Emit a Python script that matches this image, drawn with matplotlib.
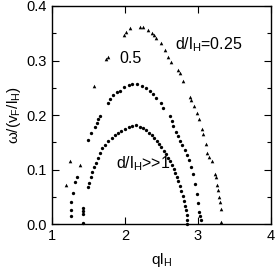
import matplotlib
matplotlib.use("Agg")
import matplotlib.pyplot as plt
from matplotlib.ticker import MultipleLocator

plt.rcParams['font.family'] = ['Liberation Sans', 'DejaVu Sans']
plt.rcParams['mathtext.fontset'] = 'custom'
plt.rcParams['mathtext.rm'] = 'Liberation Sans'
plt.rcParams['mathtext.it'] = 'Liberation Sans'

# d/l_H >> 1
inner_q = [1.425, 1.43, 1.43, 1.43, 1.49, 1.51, 1.53, 1.55, 1.575, 1.60, 1.63, 1.66,
           1.69, 1.73, 1.77, 1.82, 1.86, 1.90, 1.95, 2.00, 2.05, 2.10, 2.15, 2.20,
           2.25, 2.29, 2.33, 2.37, 2.40, 2.44, 2.47, 2.50, 2.53, 2.56, 2.59, 2.62,
           2.645, 2.67, 2.69, 2.71, 2.73, 2.75, 2.77, 2.79, 2.805, 2.82, 2.835,
           2.845, 2.85, 2.855]
inner_w = [0.002, 0.018, 0.024, 0.030, 0.068, 0.076, 0.086, 0.095, 0.104, 0.113, 0.122, 0.131,
           0.139, 0.146, 0.152, 0.158, 0.163, 0.167, 0.171, 0.175, 0.178, 0.180, 0.181, 0.179,
           0.176, 0.172, 0.168, 0.163, 0.158, 0.152, 0.147, 0.141, 0.135, 0.128, 0.122, 0.115,
           0.108, 0.101, 0.094, 0.087, 0.079, 0.070, 0.061, 0.051, 0.043, 0.034, 0.025,
           0.016, 0.008, 0.001]

# d/l_H = 0.5
mid_q = [1.256, 1.256, 1.26, 1.29, 1.315, 1.34, 1.49, 1.53, 1.59, 1.61, 1.63, 1.66,
         1.76, 1.79, 1.84, 1.89, 1.93, 1.99, 2.05, 2.10, 2.16, 2.23, 2.29, 2.34, 2.39,
         2.43, 2.49, 2.52, 2.61, 2.64, 2.66, 2.70, 2.73, 2.75, 2.78, 2.82, 2.85, 2.88,
         2.91, 2.935, 2.96, 2.98, 3.00, 3.02, 3.03, 3.04]
mid_w = [0.015, 0.025, 0.041, 0.057, 0.077, 0.087, 0.154, 0.167, 0.179, 0.186, 0.193, 0.199,
         0.222, 0.230, 0.236, 0.242, 0.245, 0.251, 0.255, 0.257, 0.257, 0.254, 0.249, 0.244, 0.238,
         0.231, 0.222, 0.213, 0.199, 0.189, 0.180, 0.169, 0.161, 0.153, 0.145, 0.136, 0.127, 0.118,
         0.104, 0.092, 0.074, 0.056, 0.038, 0.022, 0.015, 0.008]

# d/l_H = 0.25
out_q = [1.19, 1.247, 1.38, 1.58, 1.74, 1.76, 1.98, 2.02, 2.07, 2.205, 2.25, 2.32, 2.37,
         2.40, 2.43, 2.49, 2.55, 2.59, 2.63, 2.73, 2.75, 2.80, 2.89, 2.91, 2.95, 2.98,
         3.01, 3.05, 3.07, 3.11, 3.13, 3.15, 3.19, 3.23, 3.25, 3.26, 3.28, 3.29, 3.30,
         3.31, 3.32]
out_w = [0.071, 0.116, 0.108, 0.253, 0.303, 0.307, 0.347, 0.353, 0.359, 0.362, 0.361, 0.356, 0.351,
         0.347, 0.342, 0.333, 0.319, 0.307, 0.298, 0.283, 0.277, 0.263, 0.233, 0.227, 0.216, 0.203,
         0.193, 0.175, 0.165, 0.147, 0.130, 0.124, 0.115, 0.092, 0.086, 0.071, 0.062, 0.050, 0.041,
         0.027, 0.004]

fig = plt.figure(figsize=(2.77, 2.72), dpi=100)
ax = fig.add_axes([0.188, 0.176, 0.79, 0.802])

ax.plot(inner_q, inner_w, 'o', color='black', markersize=2.4, markeredgewidth=0, clip_on=False)
ax.plot(mid_q, mid_w, 'o', color='black', markersize=2.4, markeredgewidth=0, clip_on=False)
ax.plot(out_q, out_w, '^', color='black', markersize=2.6, markeredgewidth=0, clip_on=False)

ax.set_xlim(1, 4)
ax.set_ylim(0, 0.4)
ax.xaxis.set_major_locator(MultipleLocator(1))
ax.yaxis.set_major_locator(MultipleLocator(0.1))
ax.yaxis.set_minor_locator(MultipleLocator(0.05))
ax.xaxis.set_major_formatter(plt.FuncFormatter(lambda v, p: f"{v:.0f}"))
ax.yaxis.set_major_formatter(plt.FuncFormatter(lambda v, p: f"{v:.1f}"))
ax.tick_params(which='both', direction='in', top=True, right=True, labelsize=10.5)
ax.tick_params(which='major', length=5, width=0.8)
ax.tick_params(which='minor', length=3, width=0.8)
for s in ax.spines.values():
    s.set_linewidth(1.0)

ax.set_xlabel("ql$_{\\rm H}$", fontsize=11, labelpad=6)
ax.set_ylabel("ω/(v$_{\\rm F}$/l$_{\\rm H}$)", fontsize=11, labelpad=3)

ax.text(2.68, 0.329, "d/l$_{\\rm H}$=0.25", fontsize=11.5, va='center')
ax.text(1.92, 0.304, "0.5", fontsize=11.5, va='center')
ax.text(1.88, 0.111, "d/l$_{\\rm H}$>>1", fontsize=11.5, va='center')

fig.savefig("out.png", dpi=100)
